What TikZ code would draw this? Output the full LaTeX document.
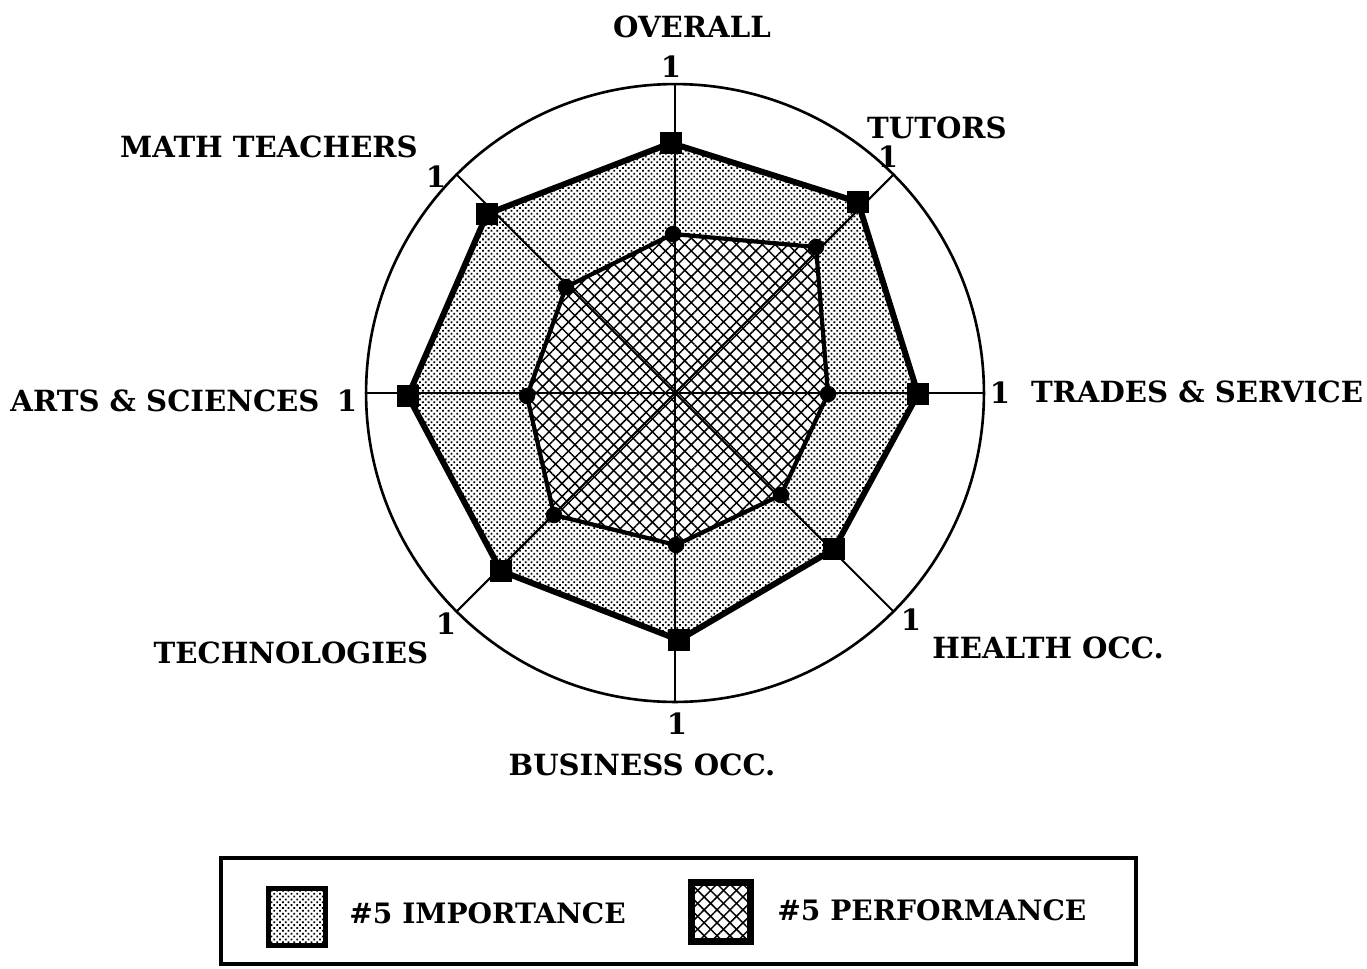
\documentclass[tikz,border=0pt]{standalone}
\usepackage{fontspec}
\setmainfont{DejaVu Serif}
\usetikzlibrary{patterns.meta}
\begin{document}
\begin{tikzpicture}[x=0.02cm,y=-0.02cm,
  lab/.style={font=\fontsize{16.6}{19}\selectfont\bfseries, inner sep=0pt},
  leglab/.style={font=\fontsize{16}{19}\selectfont\bfseries, inner sep=0pt, anchor=west},
  axisline/.style={line width=1.2pt},
  impline/.style={line width=3.4pt, line join=round},
  perfline/.style={line width=2.4pt, line join=round},
  sq/.style={fill=black, draw=none, minimum size=0.45cm, inner sep=0pt, shape=rectangle},
  dotm/.style={fill=black, draw=none, circle, minimum size=0.33cm, inner sep=0pt},
  impfill/.style={pattern={Dots[distance=2.3pt, radius=0.72pt, angle=45]}, pattern color=black},
  perffillA/.style={pattern={Lines[angle=45, distance=5.2pt, line width=0.85pt]}, pattern color=black},
  perffillB/.style={pattern={Lines[angle=-45, distance=5.2pt, line width=0.85pt]}, pattern color=black},
  swatch/.style={draw=black, line width=2.6pt}
]
\useasboundingbox (0,0) rectangle (1367,968);

% centre and axis ends
\coordinate (c) at (675,393);
\coordinate (aN) at (675,84);
\coordinate (aNE) at (893.5,174.5);
\coordinate (aE) at (984,393);
\coordinate (aSE) at (893.5,611.5);
\coordinate (aS) at (675,702);
\coordinate (aSW) at (456.5,611.5);
\coordinate (aW) at (366,393);
\coordinate (aNW) at (456.5,174.5);

% importance vertices
\coordinate (i1) at (671,143);
\coordinate (i2) at (858,202);
\coordinate (i3) at (918,394);
\coordinate (i4) at (834,549);
\coordinate (i5) at (679,640);
\coordinate (i6) at (501,571);
\coordinate (i7) at (408,396);
\coordinate (i8) at (487,214);

% performance vertices
\coordinate (p1) at (673,234);
\coordinate (p2) at (816,247);
\coordinate (p3) at (828,394);
\coordinate (p4) at (781,495);
\coordinate (p5) at (676,545);
\coordinate (p6) at (554,515);
\coordinate (p7) at (527,396);
\coordinate (p8) at (566,287);

% outer circle
\draw[line width=1.5pt] (c) circle[radius=6.18cm];

% fills
\fill[impfill] (i1) -- (i2) -- (i3) -- (i4) -- (i5) -- (i6) -- (i7) -- (i8) -- cycle;
\fill[white] (p1) -- (p2) -- (p3) -- (p4) -- (p5) -- (p6) -- (p7) -- (p8) -- cycle;
\fill[perffillA] (p1) -- (p2) -- (p3) -- (p4) -- (p5) -- (p6) -- (p7) -- (p8) -- cycle;
\fill[perffillB] (p1) -- (p2) -- (p3) -- (p4) -- (p5) -- (p6) -- (p7) -- (p8) -- cycle;

% axes
\foreach \a in {aN,aNE,aE,aSE,aS,aSW,aW,aNW}
  \draw[axisline] (c) -- (\a);

% outlines
\draw[perfline] (p1) -- (p2) -- (p3) -- (p4) -- (p5) -- (p6) -- (p7) -- (p8) -- cycle;
\draw[impline] (i1) -- (i2) -- (i3) -- (i4) -- (i5) -- (i6) -- (i7) -- (i8) -- cycle;

% markers
\foreach \k in {1,...,8} {
  \node[sq] (mi\k) at (i\k) {};
  \node[dotm] (mp\k) at (p\k) {};
}

% axis labels
\node[lab] (lOverall) at (692,27) {OVERALL};
\node[lab] (nOverall) at (671,67) {1};
\node[lab] (lTutors) at (937,128) {TUTORS};
\node[lab] (nTutors) at (888,157) {1};
\node[lab] (lMath) at (269,147) {MATH TEACHERS};
\node[lab] (nMath) at (436,177) {1};
\node[lab] (lArts) at (165,401) {ARTS \& SCIENCES};
\node[lab] (nArts) at (347,401) {1};
\node[lab] (nTrades) at (1000,393) {1};
\node[lab] (lTrades) at (1197,392) {TRADES \& SERVICE};
\node[lab] (nHealth) at (911,620) {1};
\node[lab] (lHealth) at (1048,648) {HEALTH OCC.};
\node[lab] (nBus) at (677,724) {1};
\node[lab] (lBus) at (642,765) {BUSINESS OCC.};
\node[lab] (nTech) at (446,624) {1};
\node[lab] (lTech) at (291,653) {TECHNOLOGIES};

% legend
\draw[line width=2.4pt] (221,858) rectangle (1136,964);
\node[swatch, impfill, minimum width=1.14cm, minimum height=1.14cm, inner sep=0pt] (sw1) at (297,917) {};
\node[swatch, perffillA, minimum width=1.14cm, minimum height=1.14cm, inner sep=0pt] (sw2) at (721,912) {};
\fill[perffillB] (sw2.south west) rectangle (sw2.north east);
\draw[line width=2.6pt] (sw2.south west) rectangle (sw2.north east);
\node[leglab] (t1) at (349,913) {\#5 IMPORTANCE};
\node[leglab] (t2) at (777,910) {\#5 PERFORMANCE};
\end{tikzpicture}
\end{document}
